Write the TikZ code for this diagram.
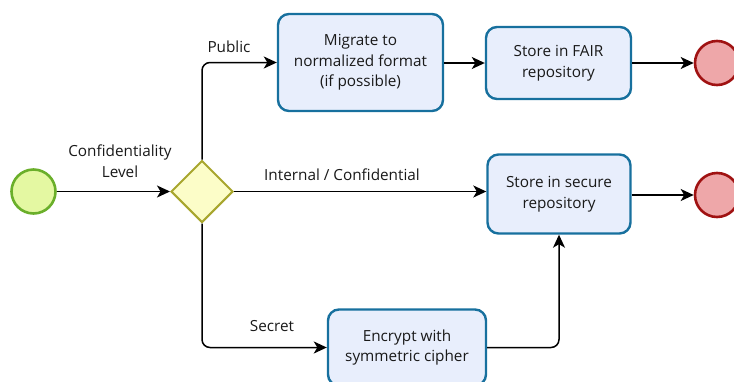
\documentclass[tikz,border=0pt]{standalone}
\usepackage{fontspec}
\setmainfont{Open Sans}
\usetikzlibrary{shapes.geometric,arrows.meta}
\definecolor{startfill}{HTML}{E4F8A2}
\definecolor{startline}{HTML}{6AAF2A}
\definecolor{gwfill}{HTML}{FCFDC8}
\definecolor{gwline}{HTML}{A8A62E}
\definecolor{taskfill}{HTML}{E8EEFC}
\definecolor{taskline}{HTML}{17709E}
\definecolor{endfill}{HTML}{EEA7A9}
\definecolor{endline}{HTML}{A01212}
\tikzset{
  x=1pt, y=-1pt,
  every node/.style={font=\fontsize{15.3}{20.5}\selectfont, text=black!90},
  startev/.style={circle, draw=startline, fill=startfill, line width=2.6pt, minimum size=44pt, inner sep=0pt},
  endev/.style={circle, draw=endline, fill=endfill, line width=2.6pt, minimum size=44pt, inner sep=0pt},
  gateway/.style={diamond, draw=gwline, fill=gwfill, line width=2pt, minimum width=62pt, minimum height=62pt, inner sep=0pt},
  task/.style={rectangle, rounded corners=11pt, draw=taskline, fill=taskfill, line width=2.4pt, align=center, inner sep=0pt},
  flow/.style={draw=black, line width=1.5pt, -{Stealth[length=13pt,width=12pt,inset=3.5pt]}, rounded corners=8pt},
  lbl/.style={align=center, inner sep=0pt}
}
\begin{document}
\begin{tikzpicture}
\useasboundingbox (0,0) rectangle (734,381);
\begin{scope}
\clip (0,0) rectangle (734,381);
\node[startev] (start) at (33.5,191.5) {};
\node[gateway] (gw) at (202,191.5) {};
\node[task, minimum width=165pt, minimum height=97pt] (migrate) at (360.5,62.5) {Migrate to\\normalized format\\(if possible)};
\node[task, minimum width=145pt, minimum height=72pt] (fair) at (558.5,63) {Store in FAIR\\repository};
\node[task, minimum width=143pt, minimum height=79pt] (secure) at (559,194) {Store in secure\\repository};
\node[task, minimum width=158pt, minimum height=76pt] (encrypt) at (407,347.5) {Encrypt with\\symmetric cipher};
\node[endev] (end1) at (717,63) {};
\node[endev] (end2) at (717,195) {};

\draw[flow] (start) -- (gw);
\draw[flow] (gw.north) |- (migrate.west);
\draw[flow] (migrate.east |- fair) -- (fair);
\draw[flow] (fair) -- (end1);
\draw[flow] (gw.east) -- (gw.east -| secure.west);
\draw[flow] (secure.east |- end2) -- (end2);
\draw[flow] (gw.south) |- (encrypt.west);
\draw[flow] (encrypt.east) -| (secure.south);

\node[lbl] (lconf) at (120,161) {Confidentiality\\Level};
\node[lbl] (lpub) at (229,47) {Public};
\node[lbl] (lint) at (342,175) {Internal / Confidential};
\node[lbl] (lsec) at (272,326) {Secret};
\end{scope}
\end{tikzpicture}
\end{document}
